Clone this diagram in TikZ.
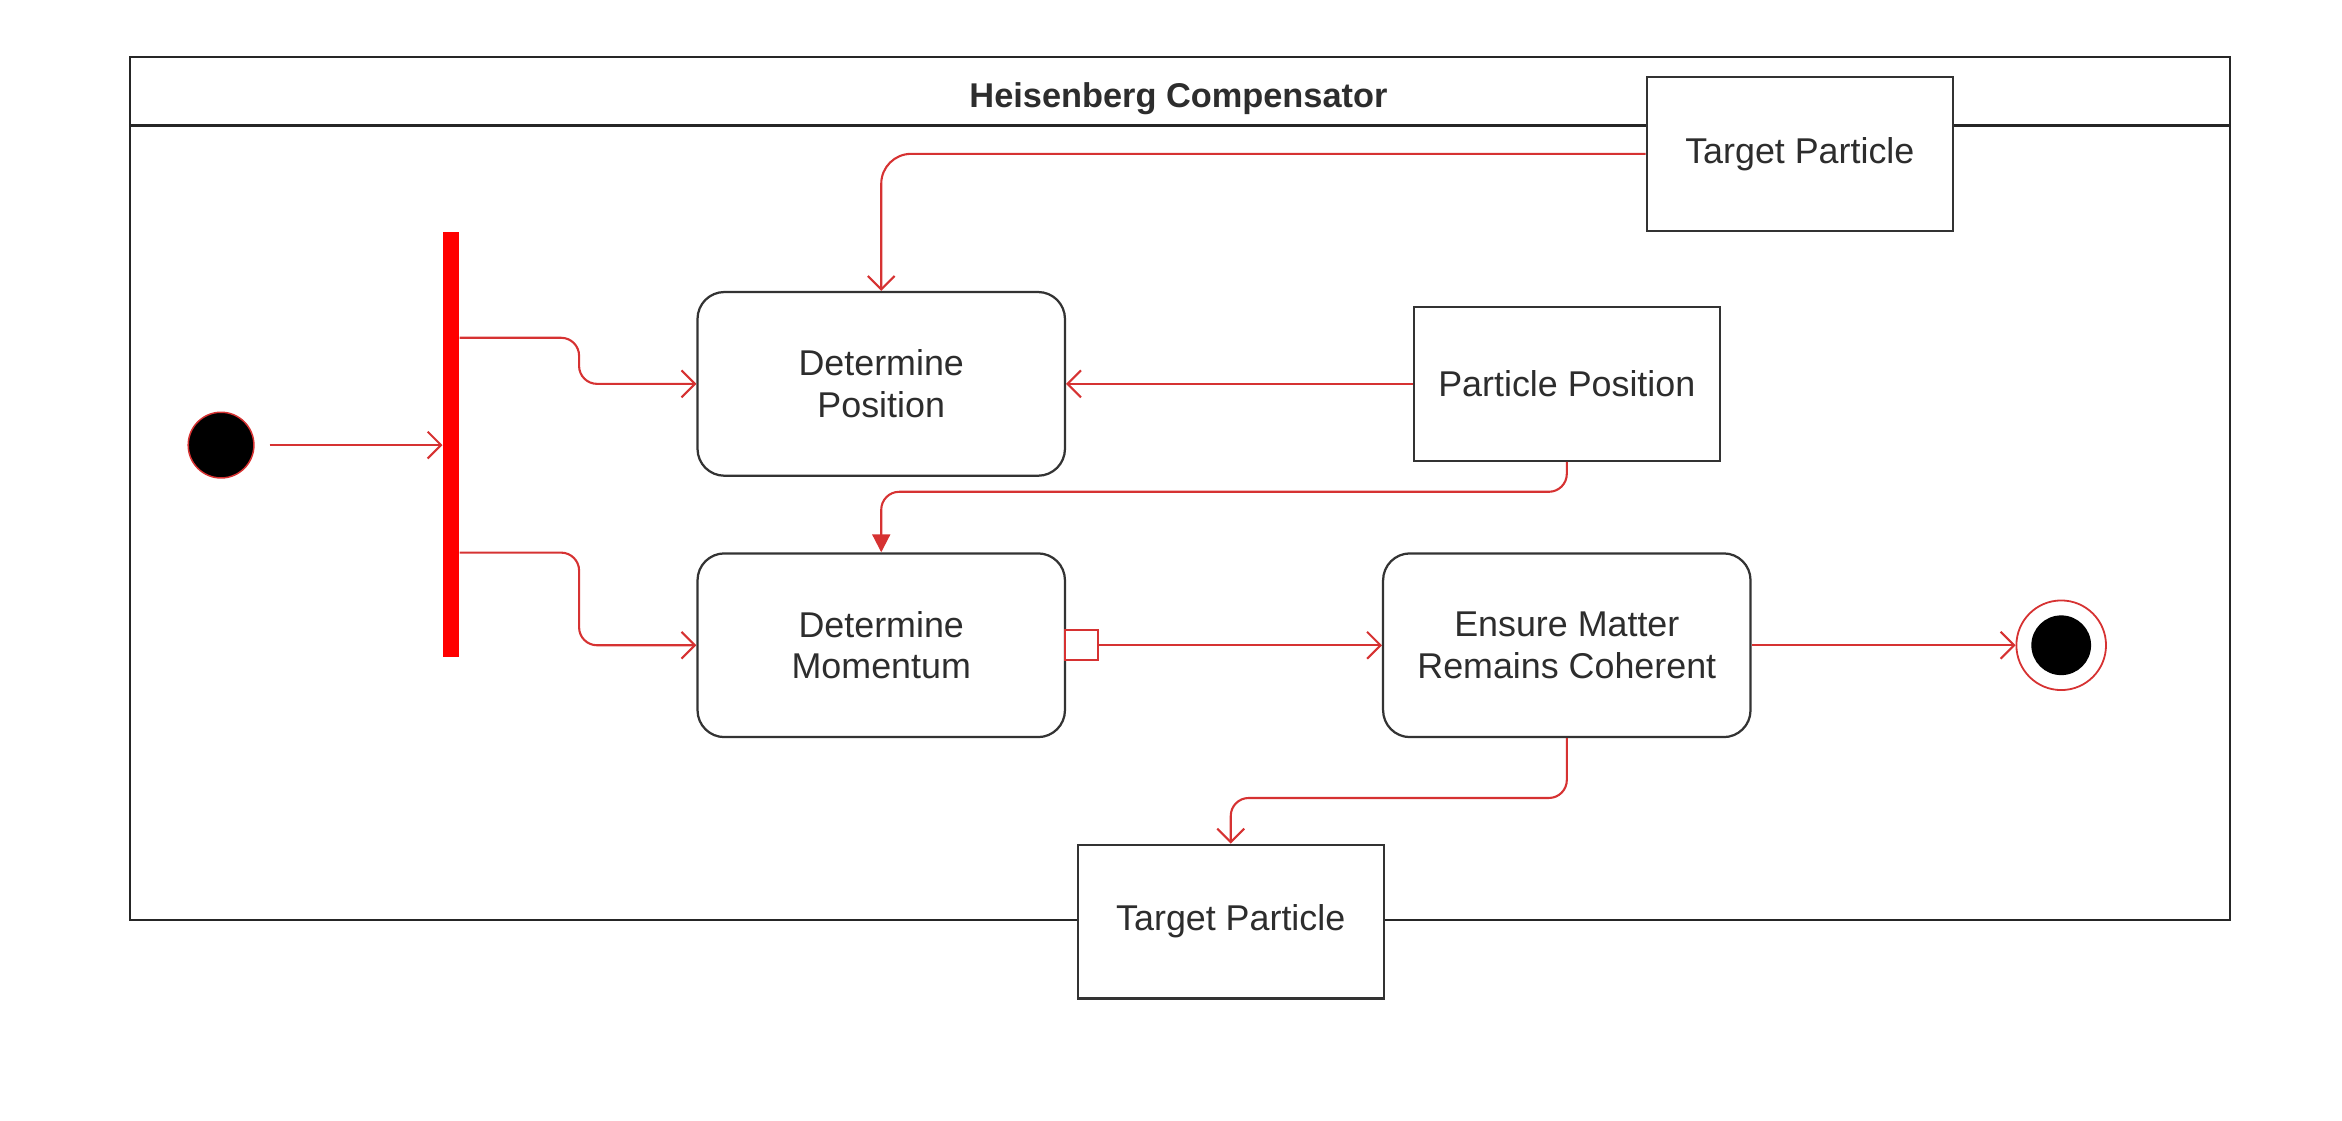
\documentclass[tikz,border=0pt]{standalone}
\usepackage{fontspec}
\setmainfont{Liberation Sans}
\usepackage{tikz}
\usetikzlibrary{positioning,calc,arrows.meta}
\definecolor{flowred}{RGB}{214,50,50}
\definecolor{txtgray}{RGB}{45,45,45}

\begin{document}
\begin{tikzpicture}[x=1pt,y=-1pt,
	act/.style={rectangle, draw=black!80, line width=1.5pt, rounded corners=18pt, minimum width=246pt, minimum height=123pt, inner sep=0, align=center, text=txtgray, font=\fontsize{24}{28}\selectfont},
	obj/.style={rectangle, draw=black!80, line width=1.5pt, fill=white, minimum width=205pt, minimum height=103pt, inner sep=0, text=txtgray, font=\fontsize{24}{28}\selectfont},
	flow/.style={draw=flowred, line width=1.4pt, rounded corners=12pt, -{Straight Barb[length=9pt,width=18pt]}}]
		\useasboundingbox (0,0) rectangle (1568,750);
		\draw[line width=1.5pt, black!85] (87,38) rectangle (1493,616);
		\draw[line width=1.5pt, black!85] (87,84) -- (1493,84);
		\node[font=\bfseries\fontsize{23}{28}\selectfont, text=txtgray] (title) at (789,66) {Heisenberg Compensator};
		\foreach \x/\y/\n/\t in {590/257/detpos/{Determine\\Position},590/432/detmom/{Determine\\Momentum},1049/432/ensure/{Ensure Matter\\Remains Coherent}} {
			\node[act] (\n) at (\x,\y) {\t};
		};
		\foreach \x/\y/\n in {1205/103/tgttop,1049/257/ppos,824/617/tgtbot} {
			\node[obj] (\n) at (\x,\y) {};
		};
		\node[text=txtgray, font=\fontsize{24}{28}\selectfont] at (tgttop) {Target Particle};
		\node[text=txtgray, font=\fontsize{24}{28}\selectfont] at (ppos) {Particle Position};
		\node[text=txtgray, font=\fontsize{24}{28}\selectfont] at (tgtbot) {Target Particle};
		\node[rectangle, fill=red, minimum width=11pt, minimum height=285pt, inner sep=0] (fork) at (302,297.5) {};
		\node[circle, fill=black, draw=flowred, line width=1pt, minimum size=44pt, inner sep=0] (start) at (148,298) {};
		\node[circle, draw=flowred, line width=1.2pt, minimum size=60pt, inner sep=0] (stop) at (1380,432) {};
		\node[circle, fill=black, minimum size=40pt, inner sep=0] (stopdot) at (stop) {};
		\node[rectangle, draw=flowred, fill=white, line width=1.4pt, minimum width=22pt, minimum height=20pt, inner sep=0] (pin) at (724,432) {};
		\coordinate (f1) at ($(fork.north east)!0.25!(fork.south east)$);
		\coordinate (f2) at ($(fork.north east)!0.754!(fork.south east)$);
		\draw[flow, shorten <=10pt] (start.east) -- (start.east -| fork.west);
		\draw[flow] (f1) -- ++(80,0) |- (detpos.west);
		\draw[flow] (f2) -- ++(80,0) |- (detmom.west);
		\draw[flow, rounded corners=20pt] (tgttop.west) -| (detpos.north);
		\draw[flow, -{Triangle[length=12pt,width=12pt]}] (ppos.south) -- ++(0,20) -| (detmom.north);
		\draw[flow] (ensure.south) -- ++(0,40) -| (tgtbot.north);
		\draw[flow] (ppos.west) -- (detpos.east);
		\draw[flow] (pin.east) -- (ensure.west);
		\draw[flow] (ensure.east) -- (stop.west);
	\end{tikzpicture}
\end{document}
